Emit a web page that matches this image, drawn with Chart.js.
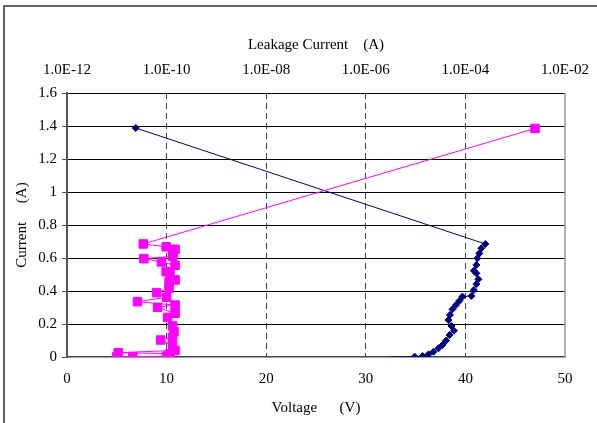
<!DOCTYPE html>
<html>
<head>
<meta charset="utf-8">
<script src="https://cdn.jsdelivr.net/npm/chart.js@4/dist/chart.umd.min.js"></script>
<style>
html,body{margin:0;padding:0;background:#fff;}
#wrap{position:relative;width:597px;height:423px;}
</style>
</head>
<body>
<div id="wrap"><canvas id="c" width="597" height="423"></canvas></div>
<script>
// Voltage (V) vs Current (A) — navy diamonds, bottom axis
const voltage = [32.5, 34.9, 35.7, 36.3, 36.8, 37.3, 37.7, 38.05, 38.4, 38.85, 38.6, 38.3, 38.45, 38.7, 39.05, 39.4, 39.7, 40.6, 40.85, 41.1, 41.3, 41.1, 40.85, 41.1, 41.2, 41.4, 41.6, 42.0, 6.9];
const currentV = [0.0, 0.002, 0.006, 0.016, 0.032, 0.053, 0.073, 0.099, 0.133, 0.159, 0.188, 0.224, 0.255, 0.289, 0.315, 0.341, 0.366, 0.37, 0.406, 0.442, 0.471, 0.507, 0.523, 0.558, 0.598, 0.628, 0.659, 0.685, 1.388];

// Leakage current (A) vs Current (A) — magenta squares, top log axis
const leakage = [1.0e-11, 2.1e-11, 1.0e-10, 1.17e-10, 1.07e-11, 1.48e-10, 1.32e-10, 7.6e-11, 1.32e-10, 1.41e-10, 1.32e-10, 1.05e-10, 1.48e-10, 6.6e-11, 1.48e-10, 2.6e-11, 1.0e-10, 6.3e-11, 1.12e-10, 1.12e-10, 1.48e-10, 1.17e-10, 9.8e-11, 1.48e-10, 7.9e-11, 3.5e-11, 1.32e-10, 1.35e-10, 1.48e-10, 9.8e-11, 3.4e-11, 2.5e-3];
const currentL = [0.002, 0.002, 0.005, 0.02, 0.026, 0.04, 0.067, 0.103, 0.12, 0.153, 0.188, 0.24, 0.265, 0.301, 0.315, 0.335, 0.362, 0.39, 0.416, 0.45, 0.467, 0.503, 0.517, 0.556, 0.576, 0.596, 0.61, 0.628, 0.653, 0.668, 0.685, 1.385];

const topTickValues = [1e-12, 1e-10, 1e-8, 1e-6, 1e-4, 1e-2];
const topTickLabels = ['1.0E-12', '1.0E-10', '1.0E-08', '1.0E-06', '1.0E-04', '1.0E-02'];

const FONT = {family: "'Liberation Serif', 'Times New Roman', serif", size: 15};

const framePlugin = {
  id: 'frame',
  afterDraw(chart) {
    const {ctx, chartArea: a} = chart;
    ctx.save();
    ctx.strokeStyle = '#333';
    ctx.lineWidth = 1.5;
    ctx.beginPath();
    ctx.moveTo(4, 423);
    ctx.lineTo(4, 6);
    ctx.lineTo(597, 6);
    ctx.stroke();
    ctx.strokeStyle = '#999';
    ctx.lineWidth = 1.5;
    ctx.beginPath();
    ctx.moveTo(a.right, a.top);
    ctx.lineTo(a.right, a.bottom);
    ctx.stroke();
    ctx.restore();
  }
};

const zeroPad = s => { s.paddingLeft = 0; s.paddingRight = 0; };

new Chart(document.getElementById('c'), {
  type: 'scatter',
  data: {
    datasets: [
      {
        label: 'Voltage',
        data: voltage.map((v, i) => ({x: v, y: currentV[i]})),
        xAxisID: 'x',
        showLine: true,
        borderColor: '#000080',
        backgroundColor: '#000080',
        borderWidth: 1,
        pointStyle: 'rectRot',
        pointRadius: voltage.map((v, i) => i === 0 ? 0 : 3.5),
        pointBorderWidth: 1,
        order: 2
      },
      {
        label: 'Leakage',
        data: leakage.map((v, i) => ({x: v, y: currentL[i]})),
        xAxisID: 'x2',
        showLine: true,
        borderColor: '#FF00FF',
        backgroundColor: '#FF00FF',
        borderWidth: 1,
        pointStyle: 'rect',
        pointRadius: 6,
        pointBorderWidth: 1,
        order: 1
      }
    ]
  },
  options: {
    responsive: false,
    animation: false,
    devicePixelRatio: 1,
    layout: {padding: {left: 0, right: 32, top: 0, bottom: 0}},
    plugins: {legend: {display: false}, tooltip: {enabled: false}},
    scales: {
      x: {
        type: 'linear',
        position: 'bottom',
        min: 0, max: 50,
        ticks: {stepSize: 10, color: '#000', font: FONT, padding: 13},
        grid: {
          drawTicks: false,
          color: c => (c.tick && c.tick.value > 0 && c.tick.value < 50) ? '#444' : 'transparent',
          lineWidth: 1
        },
        border: {display: true, color: '#444', width: 1.5, dash: [6, 4]},
        title: {display: true, text: 'Voltage      (V)', color: '#000', font: FONT, padding: {top: 0, bottom: 6}},
        afterFit: s => { s.height = 66; zeroPad(s); }
      },
      x2: {
        type: 'logarithmic',
        position: 'top',
        min: 1e-12, max: 1e-2,
        afterBuildTicks: s => { s.ticks = topTickValues.map(v => ({value: v})); },
        ticks: {
          color: '#000', font: FONT, padding: 14,
          autoSkip: false, maxRotation: 0,
          callback: (v, i) => topTickLabels[i]
        },
        grid: {display: false, drawTicks: false},
        border: {display: false},
        title: {display: true, text: 'Leakage Current    (A)', color: '#000', font: FONT, padding: {top: 36, bottom: 0}},
        afterFit: s => { s.height = 93; zeroPad(s); }
      },
      y: {
        type: 'linear',
        min: 0, max: 1.6,
        ticks: {
          stepSize: 0.2, color: '#000', font: FONT, padding: 5,
          callback: v => String(Number(v.toFixed(1)))
        },
        grid: {
          color: c => (c.tick && c.tick.value > 0) ? '#000' : 'transparent',
          lineWidth: 1,
          tickLength: 5,
          tickColor: '#555'
        },
        border: {display: true, color: '#555', width: 2},
        title: {display: true, text: 'Current     (A)', color: '#000', font: FONT, padding: {top: 13, bottom: 0}},
        afterFit: s => { s.width = 67; }
      }
    }
  },
  plugins: [framePlugin]
});
</script>
</body>
</html>
